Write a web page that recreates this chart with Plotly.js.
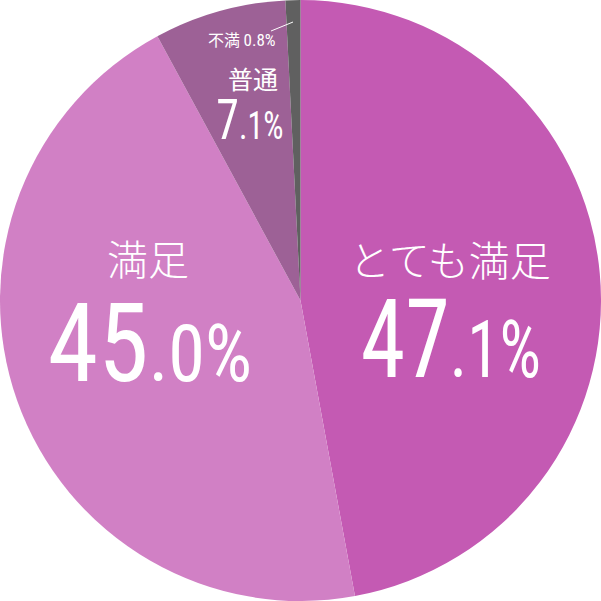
<!DOCTYPE html>
<html>
<head>
<meta charset="utf-8">
<script src="https://cdn.plot.ly/plotly-3.0.1.min.js"></script>
<style>
html, body { margin: 0; padding: 0; background: #fff; }
#chart { width: 601px; height: 601px; }
</style>
</head>
<body>
<div id="chart"></div>
<script>
var labels = ["とても満足", "満足", "普通", "不満"];
var values = [47.1, 45.0, 7.1, 0.8];
var colors = ["#c45ab3", "#d180c5", "#9d6196", "#606060"];

var num_font = "Roboto Condensed";
var jp_font = "Noto Sans CJK JP";

function split_pct(v)
{
    let parts = v.toFixed(1).split(".");
    return {whole: parts[0], rest: "." + parts[1] + "%"};
}

function big_label(v, small)
{
    let p = split_pct(v);
    return p.whole + "<span style='font-size:" + small + "px'>" + p.rest + "</span>";
}

function px(x) { return x / 601; }
function py(y) { return 1 - y / 601; }

function note(x, y, text, family, size, weight)
{
    return {xref: "paper", yref: "paper", x: px(x), y: py(y), text: text,
            showarrow: false, xanchor: "center", yanchor: "middle", borderpad: 0,
            font: {family: family, size: size, color: "#fff", weight: weight}};
}

var annotations = [
    note(450, 258, labels[0], jp_font, 41, 300),
    note(451, 339, big_label(values[0], 80), num_font, 110, 400),
    note(148, 257, labels[1], jp_font, 41, 300),
    note(150, 343, big_label(values[1], 80), num_font, 110, 400),
    note(253, 78, labels[2], jp_font, 25, 400),
    note(250, 120, big_label(values[2], 39), num_font, 56, 400),
    note(242, 39, labels[3] + " <span style='font-family:Roboto Condensed;font-size:17px'>" + values[3].toFixed(1) + "%</span>", jp_font, 16, 400)
];

// horizontal squeeze per annotation so the condensed digits come closer to the original
var squeeze = [1, 0.82, 1, 0.93, 1, 0.82, 1];

var data = [{
    type: "pie",
    labels: labels,
    values: values,
    sort: false,
    direction: "clockwise",
    rotation: 0,
    textinfo: "none",
    hoverinfo: "label+percent",
    marker: {colors: colors, line: {width: 0}},
    showlegend: false
}];

var layout = {
    width: 601,
    height: 601,
    margin: {l: 0, r: 0, t: 0, b: 0},
    paper_bgcolor: "#fff",
    annotations: annotations,
    shapes: [{
        type: "line", xref: "paper", yref: "paper",
        x0: px(271), y0: py(31), x1: px(293), y1: py(22),
        line: {color: "#fff", width: 1}
    }]
};

Plotly.newPlot("chart", data, layout, {staticPlot: true}).then(function(gd)
{
    let texts = gd.querySelectorAll("g.annotation text.annotation-text");
    texts.forEach(function(t, i)
    {
        let k = squeeze[i];
        if (k === 1) return;
        let b = t.getBBox();
        let cx = b.x + b.width / 2;
        t.setAttribute("transform", "translate(" + cx + ",0) scale(" + k + ",1) translate(" + (-cx) + ",0)");
    });
});
</script>
</body>
</html>
